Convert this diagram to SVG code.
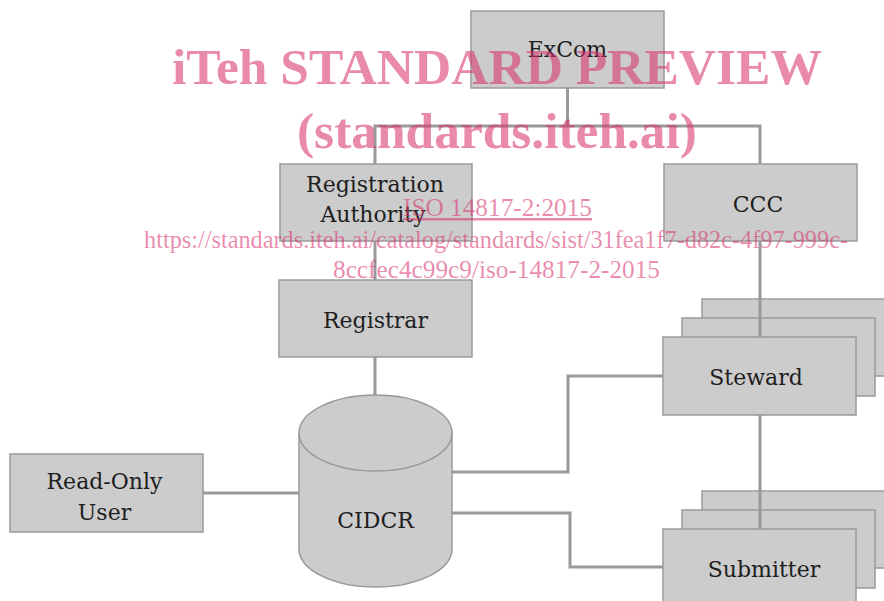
<svg xmlns="http://www.w3.org/2000/svg" width="884" height="601" viewBox="0 0 884 601">
<style>
.box{fill:#cccccc;stroke:#9a9a9a;stroke-width:1.5}
.lbl{font-family:"DejaVu Serif","Liberation Serif",serif;font-size:22px;fill:#1e1e1e;text-anchor:middle}
.con{fill:none;stroke:#999999;stroke-width:3}
.wm{font-family:"Liberation Serif",serif;fill:#d9326f;fill-opacity:0.57;text-anchor:middle}
</style>
<rect width="884" height="601" fill="#ffffff"/>
<g id="excom"><rect class="box" x="471" y="11" width="193" height="77"/><text class="lbl" x="567.5" y="57">ExCom</text></g>
<g id="ra"><rect class="box" x="280" y="164" width="192" height="77"/><text class="lbl" x="375" y="192">Registration</text><text class="lbl" x="373" y="222">Authority</text></g>
<g id="ccc"><rect class="box" x="664" y="164" width="193" height="77"/><text class="lbl" x="758" y="212">CCC</text></g>
<g id="registrar"><rect class="box" x="279" y="280" width="193" height="77"/><text class="lbl" x="375.5" y="328">Registrar</text></g>
<g id="steward"><rect class="box" x="702" y="299" width="193" height="77"/><rect class="box" x="682" y="318" width="193" height="78"/><rect class="box" x="663" y="337" width="193" height="78"/><text class="lbl" x="756" y="385">Steward</text></g>
<g id="submitter"><rect class="box" x="702" y="491" width="193" height="77"/><rect class="box" x="682" y="510" width="193" height="78"/><rect class="box" x="663" y="529" width="193" height="78"/><text class="lbl" x="764" y="577">Submitter</text></g>
<g id="readonly"><rect class="box" x="10" y="454" width="193" height="78"/><text class="lbl" x="104.5" y="489">Read-Only</text><text class="lbl" x="104.5" y="520">User</text></g>
<g id="cidcr"><path class="box" d="M299,433 A76.5,38 0 0 1 452,433 L452,549 A76.5,38 0 0 1 299,549 Z"/><path d="M299,433 A76.5,38 0 0 0 452,433" fill="none" stroke="#9a9a9a" stroke-width="1.5"/><text class="lbl" x="375.5" y="528">CIDCR</text></g>
<g id="connectors">
<path class="con" d="M567.5,88 V126 M375,164 V126 H760 V164"/>
<path class="con" d="M375,241 V280"/>
<path class="con" d="M760,241 V337"/>
<path class="con" d="M760,415 V529"/>
<path class="con" d="M375,357 V395"/>
<path class="con" d="M203,493 H299"/>
<path class="con" d="M452,472 H568 V376 H663"/>
<path class="con" d="M452,513 H570 V567 H663"/>
</g>
<g id="watermark">
<text class="wm" x="497" y="84" font-size="51" font-weight="bold" textLength="650" lengthAdjust="spacingAndGlyphs">iTeh STANDARD PREVIEW</text>
<text class="wm" x="497" y="148" font-size="51" font-weight="bold" textLength="400" lengthAdjust="spacingAndGlyphs">(standards.iteh.ai)</text>
<text class="wm" x="497.5" y="216" font-size="25" text-decoration="underline" textLength="189" lengthAdjust="spacingAndGlyphs">ISO 14817-2:2015</text>
<text class="wm" x="496" y="248" font-size="25" textLength="704" lengthAdjust="spacingAndGlyphs">https://standards.iteh.ai/catalog/standards/sist/31fea1f7-d82c-4f97-999c-</text>
<text class="wm" x="496.5" y="278" font-size="25" textLength="327" lengthAdjust="spacingAndGlyphs">8ccfec4c99c9/iso-14817-2-2015</text>
</g>
</svg>
